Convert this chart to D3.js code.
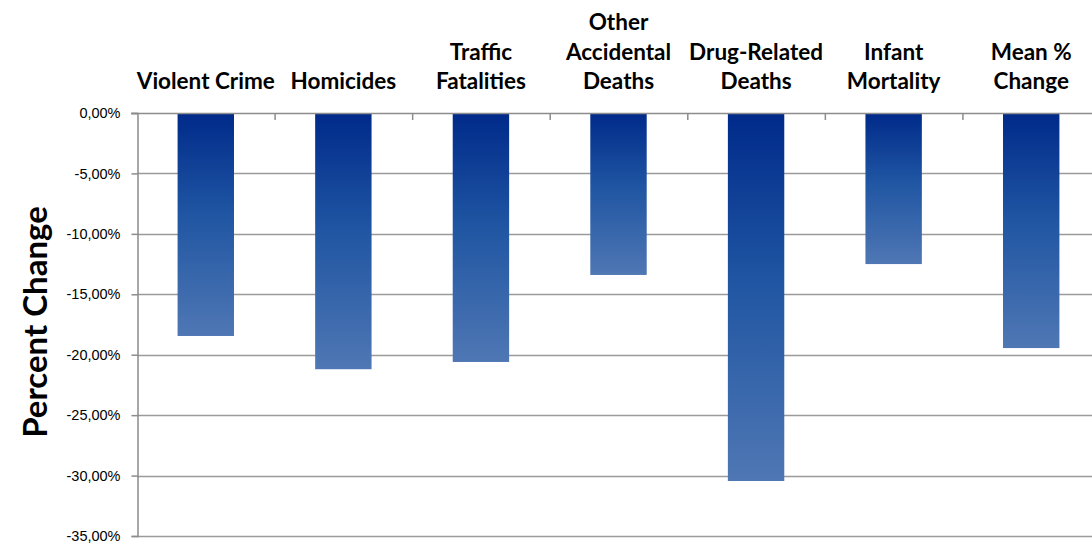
<!DOCTYPE html>
<html>
<head>
<meta charset="utf-8">
<script src="https://cdn.jsdelivr.net/npm/d3@7"></script>
<style>
  html, body { margin: 0; padding: 0; background: #fff; overflow: hidden; }
  svg { display: block; }
</style>
</head>
<body>
<svg id="chart" width="1092" height="547"></svg>
<script>
// ---- Data ----
const categories = [
  "Violent Crime", "Homicides", "Traffic Fatalities", "Other Accidental Deaths",
  "Drug-Related Deaths", "Infant Mortality", "Mean % Change"
];
const labelLines = [
  ["Violent Crime"], ["Homicides"], ["Traffic", "Fatalities"],
  ["Other", "Accidental", "Deaths"], ["Drug-Related", "Deaths"],
  ["Infant", "Mortality"], ["Mean %", "Change"]
];
const percentChange = [-18.45, -21.2, -20.6, -13.4, -30.45, -12.5, -19.45];
const yTicks = [0, -5, -10, -15, -20, -25, -30, -35];

// ---- Layout ----
const svg = d3.select("#chart");
const plotLeft = 137, plotRight = 1100, plotTop = 113, plotBottom = 536;

const x = d3.scaleBand().domain(categories).range([plotLeft, plotRight]).paddingInner(0).paddingOuter(0);
const y = d3.scaleLinear().domain([0, -35]).range([plotTop, plotBottom]);

const locale = d3.formatLocale({ decimal: ",", thousands: ".", grouping: [3], currency: ["", "€"], minus: "-" });
const fmt = v => locale.format(".2f")(v) + "%";

// gradient, per bar
const defs = svg.append("defs");
const grad = defs.append("linearGradient")
  .attr("id", "barGrad").attr("x1", 0).attr("y1", 0).attr("x2", 0).attr("y2", 1);
grad.append("stop").attr("offset", "0%").attr("stop-color", "#002a8a");
grad.append("stop").attr("offset", "45%").attr("stop-color", "#1f55a2");
grad.append("stop").attr("offset", "100%").attr("stop-color", "#4f77b4");

// gridlines
svg.append("g").selectAll("line").data(yTicks.slice(1)).join("line")
  .attr("x1", plotLeft).attr("x2", plotRight)
  .attr("y1", d => Math.round(y(d)) + 0.5).attr("y2", d => Math.round(y(d)) + 0.5)
  .attr("stroke", "#9a9a9a").attr("stroke-width", 1.5);

// y axis
const yAxis = d3.axisLeft(y).tickValues(yTicks).tickFormat(fmt).tickSize(6).tickPadding(11);
const gy = svg.append("g").attr("transform", `translate(${plotLeft + 0.5},0)`).call(yAxis);
gy.select(".domain").attr("stroke", "#8c8c8c").attr("stroke-width", 1.5);
gy.selectAll(".tick line").attr("stroke", "#8c8c8c").attr("stroke-width", 1.5);
gy.selectAll(".tick text")
  .attr("font-family", "'Liberation Sans', Arial, sans-serif")
  .attr("font-size", 14.5).attr("fill", "#000");

// bars
const barW = x.bandwidth() * 0.41;
svg.append("g").selectAll("rect").data(percentChange).join("rect")
  .attr("x", (d, i) => x(categories[i]) + (x.bandwidth() - barW) / 2)
  .attr("y", y(0))
  .attr("width", barW)
  .attr("height", d => y(d) - y(0))
  .attr("fill", "url(#barGrad)");

// category axis at zero (top)
svg.append("line")
  .attr("x1", plotLeft - 6).attr("x2", plotRight)
  .attr("y1", y(0) + 0.5).attr("y2", y(0) + 0.5)
  .attr("stroke", "#8c8c8c").attr("stroke-width", 1.5);
svg.append("g").selectAll("line").data(categories.slice(1)).join("line")
  .attr("x1", d => x(d) + 0.5).attr("x2", d => x(d) + 0.5)
  .attr("y1", y(0)).attr("y2", y(0) + 7)
  .attr("stroke", "#8c8c8c").attr("stroke-width", 1.5);

// category labels above
const lineH = 29.5, lastBase = 89;
categories.forEach((c, i) => {
  const lines = labelLines[i];
  const t = svg.append("text")
    .attr("text-anchor", "middle")
    .attr("font-family", "Lato, 'Open Sans', sans-serif")
    .attr("font-weight", "bold").attr("font-size", 22.5).attr("fill", "#000");
  lines.forEach((ln, j) => {
    t.append("tspan")
      .attr("x", x(c) + x.bandwidth() / 2)
      .attr("y", lastBase - (lines.length - 1 - j) * lineH)
      .text(ln);
  });
});

// y title
svg.append("text")
  .attr("transform", "translate(47,322) rotate(-90)")
  .attr("text-anchor", "middle")
  .attr("font-family", "Lato, 'Open Sans', sans-serif")
  .attr("font-weight", "bold").attr("font-size", 33).attr("fill", "#000")
  .text("Percent Change");
</script>
</body>
</html>
